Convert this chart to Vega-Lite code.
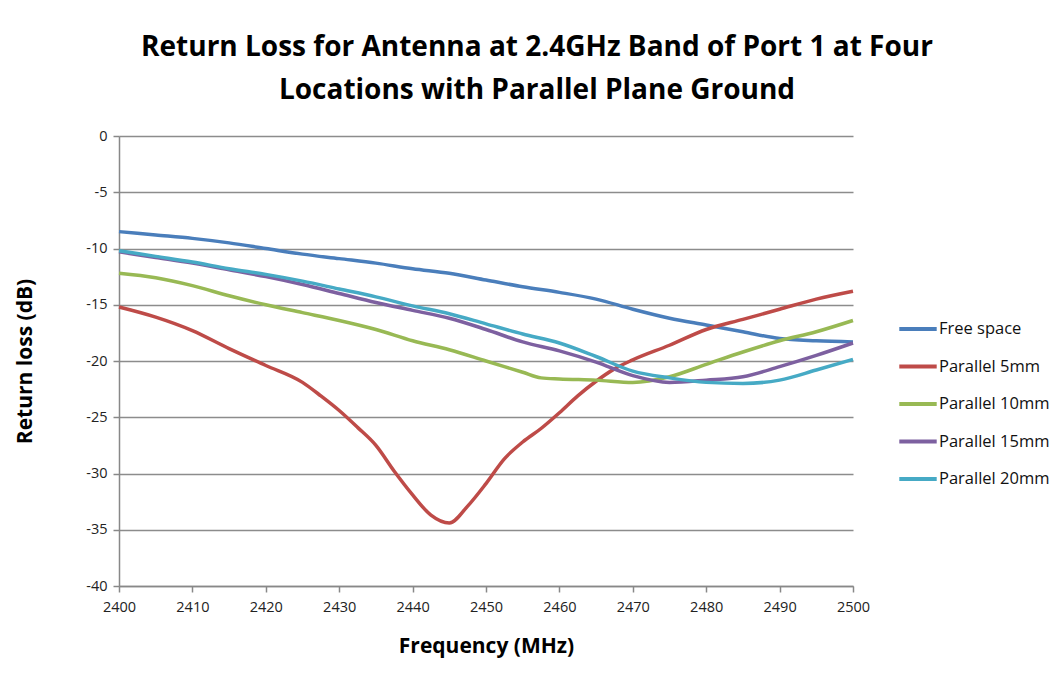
{
  "$schema": "https://vega.github.io/schema/vega-lite/v6.json",
  "autosize": {"type": "none"},
  "padding": {"left": 119, "top": 136, "right": 204, "bottom": 98},
  "width": 734,
  "height": 450,
  "background": "white",
  "title": {
    "text": ["Return Loss for Antenna at 2.4GHz Band of Port 1 at Four", "Locations with Parallel Plane Ground"],
    "font": "Open Sans",
    "fontSize": 28,
    "fontWeight": "bold",
    "color": "#000000",
    "anchor": "middle",
    "frame": "group",
    "dx": 51,
    "lineHeight": 43,
    "offset": 23
  },
  "config": {
    "view": {"stroke": null},
    "font": "Open Sans"
  },
  "data": {
    "values": [
      {"f": 2400, "v": -8.5, "s": "Free space"},
      {"f": 2405, "v": -8.8, "s": "Free space"},
      {"f": 2410, "v": -9.1, "s": "Free space"},
      {"f": 2415, "v": -9.5, "s": "Free space"},
      {"f": 2420, "v": -10.0, "s": "Free space"},
      {"f": 2425, "v": -10.5, "s": "Free space"},
      {"f": 2430, "v": -10.9, "s": "Free space"},
      {"f": 2435, "v": -11.3, "s": "Free space"},
      {"f": 2440, "v": -11.8, "s": "Free space"},
      {"f": 2445, "v": -12.2, "s": "Free space"},
      {"f": 2450, "v": -12.8, "s": "Free space"},
      {"f": 2455, "v": -13.4, "s": "Free space"},
      {"f": 2460, "v": -13.9, "s": "Free space"},
      {"f": 2465, "v": -14.5, "s": "Free space"},
      {"f": 2470, "v": -15.4, "s": "Free space"},
      {"f": 2475, "v": -16.2, "s": "Free space"},
      {"f": 2480, "v": -16.8, "s": "Free space"},
      {"f": 2485, "v": -17.4, "s": "Free space"},
      {"f": 2490, "v": -18.0, "s": "Free space"},
      {"f": 2495, "v": -18.2, "s": "Free space"},
      {"f": 2500, "v": -18.3, "s": "Free space"},

      {"f": 2400, "v": -15.2, "s": "Parallel 5mm"},
      {"f": 2405, "v": -16.1, "s": "Parallel 5mm"},
      {"f": 2410, "v": -17.3, "s": "Parallel 5mm"},
      {"f": 2415, "v": -18.9, "s": "Parallel 5mm"},
      {"f": 2420, "v": -20.4, "s": "Parallel 5mm"},
      {"f": 2425, "v": -21.9, "s": "Parallel 5mm"},
      {"f": 2427.5, "v": -23.1, "s": "Parallel 5mm"},
      {"f": 2430, "v": -24.4, "s": "Parallel 5mm"},
      {"f": 2432.5, "v": -25.9, "s": "Parallel 5mm"},
      {"f": 2435, "v": -27.5, "s": "Parallel 5mm"},
      {"f": 2437.5, "v": -29.8, "s": "Parallel 5mm"},
      {"f": 2440, "v": -31.9, "s": "Parallel 5mm"},
      {"f": 2442.5, "v": -33.7, "s": "Parallel 5mm"},
      {"f": 2445, "v": -34.4, "s": "Parallel 5mm"},
      {"f": 2447.5, "v": -32.9, "s": "Parallel 5mm"},
      {"f": 2450, "v": -30.9, "s": "Parallel 5mm"},
      {"f": 2452.5, "v": -28.7, "s": "Parallel 5mm"},
      {"f": 2455, "v": -27.2, "s": "Parallel 5mm"},
      {"f": 2457.5, "v": -26.0, "s": "Parallel 5mm"},
      {"f": 2460, "v": -24.6, "s": "Parallel 5mm"},
      {"f": 2462.5, "v": -23.1, "s": "Parallel 5mm"},
      {"f": 2465, "v": -21.8, "s": "Parallel 5mm"},
      {"f": 2467.5, "v": -20.7, "s": "Parallel 5mm"},
      {"f": 2470, "v": -19.9, "s": "Parallel 5mm"},
      {"f": 2475, "v": -18.6, "s": "Parallel 5mm"},
      {"f": 2480, "v": -17.2, "s": "Parallel 5mm"},
      {"f": 2485, "v": -16.3, "s": "Parallel 5mm"},
      {"f": 2490, "v": -15.4, "s": "Parallel 5mm"},
      {"f": 2495, "v": -14.5, "s": "Parallel 5mm"},
      {"f": 2500, "v": -13.8, "s": "Parallel 5mm"},

      {"f": 2400, "v": -12.2, "s": "Parallel 10mm"},
      {"f": 2405, "v": -12.6, "s": "Parallel 10mm"},
      {"f": 2410, "v": -13.3, "s": "Parallel 10mm"},
      {"f": 2415, "v": -14.2, "s": "Parallel 10mm"},
      {"f": 2420, "v": -15.0, "s": "Parallel 10mm"},
      {"f": 2425, "v": -15.7, "s": "Parallel 10mm"},
      {"f": 2430, "v": -16.4, "s": "Parallel 10mm"},
      {"f": 2435, "v": -17.2, "s": "Parallel 10mm"},
      {"f": 2440, "v": -18.2, "s": "Parallel 10mm"},
      {"f": 2445, "v": -19.0, "s": "Parallel 10mm"},
      {"f": 2450, "v": -20.0, "s": "Parallel 10mm"},
      {"f": 2455, "v": -21.0, "s": "Parallel 10mm"},
      {"f": 2457.5, "v": -21.5, "s": "Parallel 10mm"},
      {"f": 2460, "v": -21.6, "s": "Parallel 10mm"},
      {"f": 2465, "v": -21.7, "s": "Parallel 10mm"},
      {"f": 2470, "v": -21.9, "s": "Parallel 10mm"},
      {"f": 2475, "v": -21.4, "s": "Parallel 10mm"},
      {"f": 2480, "v": -20.3, "s": "Parallel 10mm"},
      {"f": 2485, "v": -19.2, "s": "Parallel 10mm"},
      {"f": 2490, "v": -18.2, "s": "Parallel 10mm"},
      {"f": 2495, "v": -17.4, "s": "Parallel 10mm"},
      {"f": 2500, "v": -16.4, "s": "Parallel 10mm"},

      {"f": 2400, "v": -10.3, "s": "Parallel 15mm"},
      {"f": 2405, "v": -10.8, "s": "Parallel 15mm"},
      {"f": 2410, "v": -11.3, "s": "Parallel 15mm"},
      {"f": 2415, "v": -11.9, "s": "Parallel 15mm"},
      {"f": 2420, "v": -12.5, "s": "Parallel 15mm"},
      {"f": 2425, "v": -13.2, "s": "Parallel 15mm"},
      {"f": 2430, "v": -14.0, "s": "Parallel 15mm"},
      {"f": 2435, "v": -14.8, "s": "Parallel 15mm"},
      {"f": 2440, "v": -15.5, "s": "Parallel 15mm"},
      {"f": 2445, "v": -16.2, "s": "Parallel 15mm"},
      {"f": 2450, "v": -17.2, "s": "Parallel 15mm"},
      {"f": 2455, "v": -18.3, "s": "Parallel 15mm"},
      {"f": 2460, "v": -19.1, "s": "Parallel 15mm"},
      {"f": 2465, "v": -20.1, "s": "Parallel 15mm"},
      {"f": 2470, "v": -21.3, "s": "Parallel 15mm"},
      {"f": 2475, "v": -21.9, "s": "Parallel 15mm"},
      {"f": 2480, "v": -21.7, "s": "Parallel 15mm"},
      {"f": 2485, "v": -21.4, "s": "Parallel 15mm"},
      {"f": 2490, "v": -20.5, "s": "Parallel 15mm"},
      {"f": 2495, "v": -19.5, "s": "Parallel 15mm"},
      {"f": 2500, "v": -18.4, "s": "Parallel 15mm"},

      {"f": 2400, "v": -10.2, "s": "Parallel 20mm"},
      {"f": 2405, "v": -10.7, "s": "Parallel 20mm"},
      {"f": 2410, "v": -11.2, "s": "Parallel 20mm"},
      {"f": 2415, "v": -11.8, "s": "Parallel 20mm"},
      {"f": 2420, "v": -12.3, "s": "Parallel 20mm"},
      {"f": 2425, "v": -12.9, "s": "Parallel 20mm"},
      {"f": 2430, "v": -13.6, "s": "Parallel 20mm"},
      {"f": 2435, "v": -14.3, "s": "Parallel 20mm"},
      {"f": 2440, "v": -15.1, "s": "Parallel 20mm"},
      {"f": 2445, "v": -15.8, "s": "Parallel 20mm"},
      {"f": 2450, "v": -16.7, "s": "Parallel 20mm"},
      {"f": 2455, "v": -17.6, "s": "Parallel 20mm"},
      {"f": 2460, "v": -18.4, "s": "Parallel 20mm"},
      {"f": 2465, "v": -19.6, "s": "Parallel 20mm"},
      {"f": 2470, "v": -20.9, "s": "Parallel 20mm"},
      {"f": 2475, "v": -21.5, "s": "Parallel 20mm"},
      {"f": 2480, "v": -21.9, "s": "Parallel 20mm"},
      {"f": 2485, "v": -22.0, "s": "Parallel 20mm"},
      {"f": 2490, "v": -21.7, "s": "Parallel 20mm"},
      {"f": 2495, "v": -20.8, "s": "Parallel 20mm"},
      {"f": 2500, "v": -19.85, "s": "Parallel 20mm"}
    ]
  },
  "mark": {"type": "line", "strokeWidth": 3.5, "interpolate": "monotone"},
  "encoding": {
    "x": {
      "field": "f",
      "type": "quantitative",
      "scale": {"domain": [2400, 2500], "nice": false, "zero": false},
      "axis": {
        "values": [2400, 2410, 2420, 2430, 2440, 2450, 2460, 2470, 2480, 2490, 2500],
        "labelExpr": "'' + datum.value",
        "labelFlush": false,
        "grid": false,
        "title": "Frequency  (MHz)",
        "titleFont": "Open Sans",
        "titleFontSize": 21,
        "titleFontWeight": "bold",
        "titleColor": "#000000",
        "titlePadding": 22,
        "labelFont": "Open Sans",
        "labelFontSize": 14.5,
        "labelColor": "#222222",
        "labelPadding": 8,
        "domainColor": "#888888",
        "domainWidth": 1.5,
        "tickColor": "#888888",
        "tickSize": 6,
        "tickWidth": 1.5
      }
    },
    "y": {
      "field": "v",
      "type": "quantitative",
      "scale": {"domain": [-40, 0], "nice": false, "zero": false},
      "axis": {
        "values": [0, -5, -10, -15, -20, -25, -30, -35, -40],
        "labelExpr": "'' + datum.value",
        "grid": true,
        "gridColor": "#8c8c8c",
        "gridWidth": 1.5,
        "title": "Return loss (dB)",
        "titleFont": "Open Sans",
        "titleFontSize": 21,
        "titleFontWeight": "bold",
        "titleColor": "#000000",
        "titlePadding": 50,
        "labelFont": "Open Sans",
        "labelFontSize": 14.5,
        "labelColor": "#222222",
        "labelPadding": 6,
        "domainColor": "#888888",
        "domainWidth": 1.5,
        "tickColor": "#888888",
        "tickSize": 6,
        "tickWidth": 1.5
      }
    },
    "color": {
      "field": "s",
      "type": "nominal",
      "scale": {
        "domain": ["Free space", "Parallel 5mm", "Parallel 10mm", "Parallel 15mm", "Parallel 20mm"],
        "range": ["#4A7EBB", "#BE4B48", "#98B954", "#7D60A0", "#46AAC5"]
      },
      "legend": {
        "title": null,
        "orient": "none",
        "legendX": 778,
        "legendY": 172,
        "symbolType": "stroke",
        "symbolSize": 1400,
        "symbolStrokeWidth": 4,
        "labelFont": "Open Sans",
        "labelFontSize": 16.5,
        "labelColor": "#111111",
        "labelOffset": 0,
        "rowPadding": 7.5
      }
    }
  }
}
